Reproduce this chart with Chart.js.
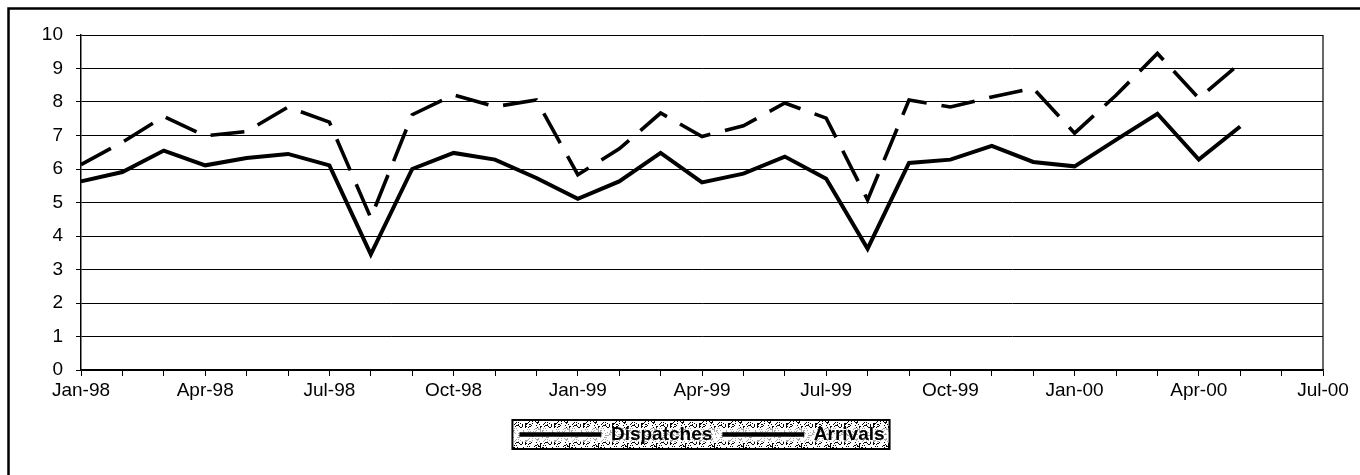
<!DOCTYPE html>
<html>
<head>
<meta charset="utf-8">
<script src="https://cdn.jsdelivr.net/npm/chart.js@4/dist/chart.umd.min.js"></script>
<style>
  html, body { margin: 0; padding: 0; background: #fff; overflow: hidden; }
  #wrap { width: 1360px; height: 475px; }
</style>
</head>
<body>
<div id="wrap"><canvas id="tradeChart" width="1360" height="475"></canvas></div>
<script>
// Monthly figures, Jan-98 .. May-00 (axis runs on to Jul-00)
const months = [
  'Jan-98', 'Feb-98', 'Mar-98', 'Apr-98', 'May-98', 'Jun-98', 'Jul-98', 'Aug-98', 'Sep-98', 'Oct-98', 'Nov-98', 'Dec-98',
  'Jan-99', 'Feb-99', 'Mar-99', 'Apr-99', 'May-99', 'Jun-99', 'Jul-99', 'Aug-99', 'Sep-99', 'Oct-99', 'Nov-99', 'Dec-99',
  'Jan-00', 'Feb-00', 'Mar-00', 'Apr-00', 'May-00', 'Jun-00', 'Jul-00'
];
const dispatches = [
  5.63, 5.91, 6.55, 6.11, 6.33, 6.45, 6.11, 3.45, 6.00, 6.48, 6.28, 5.73,
  5.11, 5.63, 6.48, 5.60, 5.86, 6.37, 5.71, 3.62, 6.18, 6.28, 6.69, 6.21,
  6.08, 6.87, 7.65, 6.28, 7.27
];
const arrivals = [
  6.13, 6.80, 7.57, 6.99, 7.12, 7.85, 7.40, 4.54, 7.62, 8.21, 7.86, 8.06,
  5.83, 6.60, 7.67, 6.97, 7.29, 7.97, 7.52, 5.08, 8.06, 7.85, 8.15, 8.41,
  7.07, 8.20, 9.45, 8.11, 9.16
];
const yMin = 0;
const yMax = 10;
const yStep = 1;

const FONT = "'Liberation Sans', Arial, sans-serif";

// speckled fill for the legend panel (fixed dither, no randomness)
function speckle() {
  const c = document.createElement('canvas');
  c.width = 29; c.height = 17;
  const g = c.getContext('2d');
  g.fillStyle = '#fff';
  g.fillRect(0, 0, c.width, c.height);
  g.fillStyle = '#000';
  for (let y = 0; y < c.height; y++) {
    for (let x = 0; x < c.width; x++) {
      const h = (x * 53 + y * 97 + x * y * 29 + (x >> 2) * 11) % 31;
      if (h < 5) g.fillRect(x, y, 1, 1);
      else if (h === 5) g.fillRect(x, y, 2, 1);
    }
  }
  return c;
}

const framePlugin = {
  id: 'frame',
  beforeDraw(chart) {
    const ctx = chart.ctx;
    ctx.save();
    ctx.fillStyle = '#fff';
    ctx.fillRect(0, 0, chart.width, chart.height);
    // outer frame, runs off the right and bottom edges
    ctx.strokeStyle = '#000';
    ctx.lineWidth = 2.5;
    ctx.beginPath();
    ctx.moveTo(8.5, chart.height + 5);
    ctx.lineTo(8.5, 8.5);
    ctx.lineTo(chart.width + 5, 8.5);
    ctx.stroke();

    // legend panel: speckled, a bit cleaner through the middle where the text sits
    const boxes = chart.legend.legendHitBoxes;
    if (boxes && boxes.length) {
      const left = Math.min(...boxes.map(b => b.left)) - 7;
      const right = Math.max(...boxes.map(b => b.left + b.width)) + 5;
      const top = Math.min(...boxes.map(b => b.top)) - 5;
      const bottom = Math.max(...boxes.map(b => b.top + b.height)) + 5;
      ctx.fillStyle = ctx.createPattern(speckle(), 'repeat');
      ctx.fillRect(left, top, right - left, bottom - top);
      ctx.fillStyle = 'rgba(255,255,255,0.65)';
      ctx.fillRect(left, top + 8, right - left, bottom - top - 15);
      ctx.lineWidth = 2;
      ctx.strokeStyle = '#000';
      ctx.strokeRect(left, top, right - left, bottom - top);
    }
    ctx.restore();
  },
  beforeDatasetsDraw(chart) {
    // right edge of the plot area
    const { ctx, chartArea } = chart;
    ctx.save();
    ctx.strokeStyle = '#000';
    ctx.lineWidth = 1.2;
    ctx.beginPath();
    ctx.moveTo(chartArea.right, chartArea.top);
    ctx.lineTo(chartArea.right, chartArea.bottom);
    ctx.stroke();
    ctx.restore();
  }
};

new Chart(document.getElementById('tradeChart'), {
  type: 'line',
  data: {
    labels: months,
    datasets: [{
      label: 'Dispatches',
      data: dispatches,
      borderColor: '#000',
      backgroundColor: '#000',
      borderWidth: 4,
      pointRadius: 0,
      tension: 0,
      fill: false
    }, {
      label: 'Arrivals',
      data: arrivals,
      borderColor: '#000',
      backgroundColor: '#000',
      borderWidth: 3.6,
      borderDash: [34, 15],
      pointRadius: 0,
      tension: 0,
      fill: false
    }]
  },
  options: {
    responsive: false,
    animation: false,
    events: [],
    layout: { padding: { top: 35, right: 37, bottom: 21, left: 0 } },
    scales: {
      x: {
        type: 'category',
        offset: false,
        afterFit(scale) { scale.height = 45; },
        grid: { display: true, drawOnChartArea: false, drawTicks: true, tickLength: 6, color: '#000', lineWidth: 1 },
        border: { display: true, color: '#000', width: 1.5 },
        ticks: {
          autoSkip: false,
          maxRotation: 0,
          padding: 3,
          color: '#000',
          font: { family: FONT, size: 19 },
          callback: (v, i) => (i % 3 === 0 ? months[i] : '')
        }
      },
      y: {
        min: yMin,
        max: yMax,
        afterFit(scale) { scale.width = 81; },
        grid: { color: '#000', lineWidth: 1, drawTicks: true, tickLength: 5 },
        border: { display: true, color: '#000', width: 1.5 },
        ticks: {
          stepSize: yStep,
          padding: 13,
          color: '#000',
          font: { family: FONT, size: 19 }
        }
      }
    },
    plugins: {
      title: { display: false },
      tooltip: { enabled: false },
      legend: {
        position: 'bottom',
        fullSize: false,
        labels: {
          usePointStyle: true,
          pointStyle: 'line',
          pointStyleWidth: 82,
          padding: 10,
          color: '#000',
          font: { family: FONT, size: 19, weight: 'bold' },
          generateLabels(chart) {
            const items = Chart.defaults.plugins.legend.labels.generateLabels(chart);
            items.forEach(it => { it.lineWidth = 4.5; it.strokeStyle = '#000'; });
            return items;
          }
        }
      }
    }
  },
  plugins: [framePlugin]
});
</script>
</body>
</html>
